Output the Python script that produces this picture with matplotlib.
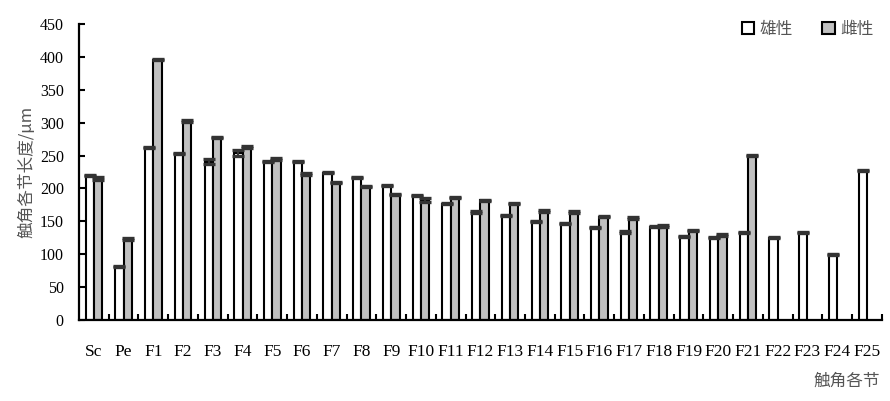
"""Antenna segment lengths, male vs female — grouped bar chart with error caps."""

import numpy as np
import matplotlib
matplotlib.use("Agg")
import matplotlib.pyplot as plt
from matplotlib.patches import Patch

# --- data --------------------------------------------------------------------
segments = ["Sc", "Pe"] + [f"F{i}" for i in range(1, 26)]

male = [220, 81, 262, 253, 241, 254, 241, 241, 224, 217, 204, 189, 177, 164,
        159, 150, 147, 141, 134, 142, 127, 125, 133, 125, 133, 100, 227]
male_err = [1, 1, 1, 1, 4, 4, 1.5, 1, 1, 1, 1, 1, 1, 1,
            1, 1, 1, 1, 1, 1, 1, 1, 1, 1, 1, 1, 1]

female = [215, 123, 396, 303, 278, 263, 245, 222, 209, 203, 191, 183, 186, 182,
          177, 166, 164, 157, 155, 143, 136, 129, 250,
          np.nan, np.nan, np.nan, np.nan]
female_err = [2.5, 1, 1, 1.5, 1, 1, 1.5, 1, 1, 1, 1, 3, 1, 1,
              1, 1.5, 1, 1, 1, 1.5, 1, 1.5, 1, 0, 0, 0, 0]

labels = ["雄性", "雌性"]
fill_colors = ["white", "#c0c0c0"]

# --- fonts ---------------------------------------------------------------------
plt.rcParams["font.family"] = ["Liberation Serif", "Noto Sans CJK SC", "DejaVu Sans"]
CJK = ["Noto Sans CJK SC", "DejaVu Sans"]
GREY_TEXT = "#555555"

fig = plt.figure(figsize=(8.9, 4.01), dpi=100)
ax = fig.add_axes([0.0888, 0.202, 0.902, 0.738])

x = np.arange(len(segments))
w = 0.28
female = np.array(female, dtype=float)
has_f = ~np.isnan(female)

ax.bar(x - w / 2, male, width=w, color=fill_colors[0], edgecolor="black",
       linewidth=1.5, zorder=2)
ax.bar(x[has_f] + w / 2, female[has_f], width=w, color=fill_colors[1],
       edgecolor="black", linewidth=1.5, zorder=2)

err_kw = dict(fmt="none", ecolor="#333333", elinewidth=1.5, capsize=4.3,
              capthick=2.4, zorder=3)
ax.errorbar(x - w / 2, male, yerr=male_err, **err_kw)
ax.errorbar(x[has_f] + w / 2, female[has_f], yerr=np.array(female_err)[has_f], **err_kw)

# --- axes styling --------------------------------------------------------------
ax.set_xlim(-0.5, len(segments) - 0.5)
ax.set_ylim(0, 450)
ax.set_yticks(np.arange(0, 451, 50))
ax.set_xticks(x)
ax.set_xticklabels(segments)
ax.set_xticks(np.arange(0.5, len(segments)), minor=True)

for side in ("top", "right"):
    ax.spines[side].set_visible(False)
for side in ("left", "bottom"):
    ax.spines[side].set_linewidth(1.6)

ax.tick_params(axis="y", direction="in", length=4.5, width=1.5, pad=11, labelsize=11.5)
ax.tick_params(axis="x", which="major", length=0, pad=17, labelsize=12.5)
ax.tick_params(axis="x", which="minor", direction="in", length=4.5, width=1.5)

ax.set_ylabel("触角各节长度/μm", family=CJK, fontsize=12, color=GREY_TEXT, labelpad=3)
fig.text(0.989, 0.048, "触角各节", family=CJK, fontsize=12, color=GREY_TEXT,
         ha="right", va="center")

handles = [Patch(facecolor=c, edgecolor="black", linewidth=1.5) for c in fill_colors]
leg = fig.legend(handles, labels, loc="upper right", bbox_to_anchor=(0.998, 0.985),
                 ncol=2, frameon=False, prop={"family": CJK, "size": 12},
                 handlelength=0.75, handleheight=0.75, handletextpad=0.3,
                 columnspacing=1.8)
for t in leg.get_texts():
    t.set_color(GREY_TEXT)

fig.savefig("out.png", dpi=100)
